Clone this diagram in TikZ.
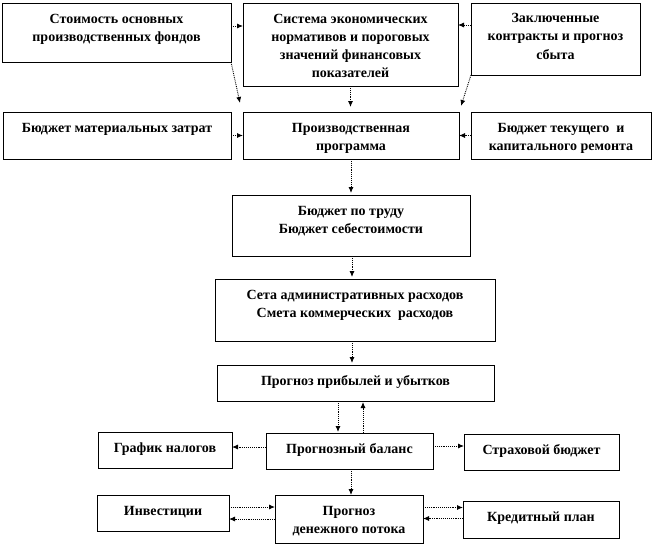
\documentclass[tikz,border=0pt]{standalone}
\usepackage{fontspec}
\setmainfont{Liberation Serif}
\usetikzlibrary{arrows.meta,calc}
\tikzset{
  bx/.style={draw, line width=0.8pt, inner sep=0pt, outer sep=0pt,
     font=\fontsize{14}{18}\selectfont\bfseries},
  con/.style={densely dotted, line width=0.9pt, -{Latex[length=6pt,width=5pt]}},
}
\newcommand\bnode[6]{%
  \pgfmathsetmacro\bw{#4-#2}%
  \pgfmathsetmacro\bh{#5-#3}%
  \node[bx] (#1) at ({(#2+#4)/2},{(#3+#5)/2})
    {\parbox[c][\bh pt][t]{\bw pt}{\centering\rule{0pt}{20pt}#6}};%
}
\begin{document}
\begin{tikzpicture}[x=1pt,y=-1pt]
\fill[white] (0,0) rectangle (654,546);
\useasboundingbox (0,0) rectangle (654,546);
\bnode{b1}{2}{3}{231}{62}{Стоимость основных\\производственных фондов}
\bnode{b2}{243}{3}{458}{86}{Система экономических\\нормативов и пороговых\\значений финансовых\\показателей}
\bnode{b3}{471}{3}{640}{75}{Заключенные\\контракты и прогноз\\сбыта}
\bnode{mat}{3}{112}{231}{159}{Бюджет материальных затрат}
\bnode{prod}{243}{112}{459}{159}{Производственная\\программа}
\bnode{tek}{471}{112}{651}{159}{Бюджет текущего~ и\\капитального ремонта}
\bnode{trud}{232}{195}{470}{256}{Бюджет по труду\\Бюджет себестоимости}
\bnode{seta}{215}{279}{495}{341}{Сета административных расходов\\Смета коммерческих~ расходов}
\bnode{pnl}{217}{365}{494}{401}{Прогноз прибылей и убытков}
\bnode{bal}{266}{433}{433}{469}{Прогнозный баланс}
\bnode{tax}{98}{432}{232}{468}{График налогов}
\bnode{ins}{464}{434}{619}{470}{Страховой бюджет}
\bnode{cash}{275}{495}{423}{543}{Прогноз\\денежного потока}
\bnode{inv}{97}{495}{229}{531}{Инвестиции}
\bnode{cred}{463}{501}{619}{538}{Кредитный план}

\coordinate (d1) at ([xshift=-3pt,yshift=9pt]prod.north west);
\coordinate (d3) at ([xshift=2pt,yshift=6pt]prod.north east);

\draw[con] ([yshift=6.5pt]b1.east) -- ([yshift=6.5pt]b1.east -| b2.west);
\draw[con] ([yshift=14pt]b3.west) -- ([yshift=14pt]b3.west -| b2.east);
\draw[con] (b1.south east) -- (d1);
\draw[con] (b2.south) -- ([yshift=5pt]b2.south |- prod.north);
\draw[con] (b3.south west) -- (d3);
\draw[con] (mat.east) -- (mat.east -| prod.west);
\draw[con] (tek.west) -- (tek.west -| prod.east);
\draw[con] (prod.south) -- ([yshift=2pt]prod.south |- trud.north);
\draw[con] ([xshift=1pt]trud.south) -- ([xshift=1pt,yshift=2pt]trud.south |- seta.north);
\draw[con] ([xshift=-3pt]seta.south) -- ([xshift=-3pt,yshift=2pt]seta.south |- pnl.north);
\draw[con] ([xshift=-11.5pt]bal.north |- pnl.south) -- ([xshift=-11.5pt,yshift=1pt]bal.north);
\draw[con] ([xshift=13.5pt]bal.north) -- ([xshift=13.5pt,yshift=-1pt]bal.north |- pnl.south);
\draw[con] ([yshift=4pt]bal.west) -- ([yshift=4pt]bal.west -| tax.east);
\draw[con] ([yshift=5pt]bal.east) -- ([yshift=5pt]bal.east -| ins.west);
\draw[con] ([xshift=1.5pt]bal.south) -- ([xshift=1.5pt]bal.south |- cash.north);
\draw[con] ([yshift=6pt]inv.east) -- ([yshift=6pt]inv.east -| cash.west);
\draw[con] ([yshift=-6pt]inv.east -| cash.west) -- ([yshift=-6pt]inv.east);
\draw[con] ([yshift=12pt]cred.west -| cash.east) -- ([yshift=12pt]cred.west);
\draw[con] ([yshift=1pt]cred.west) -- ([yshift=1pt]cred.west -| cash.east);
\end{tikzpicture}
\end{document}
